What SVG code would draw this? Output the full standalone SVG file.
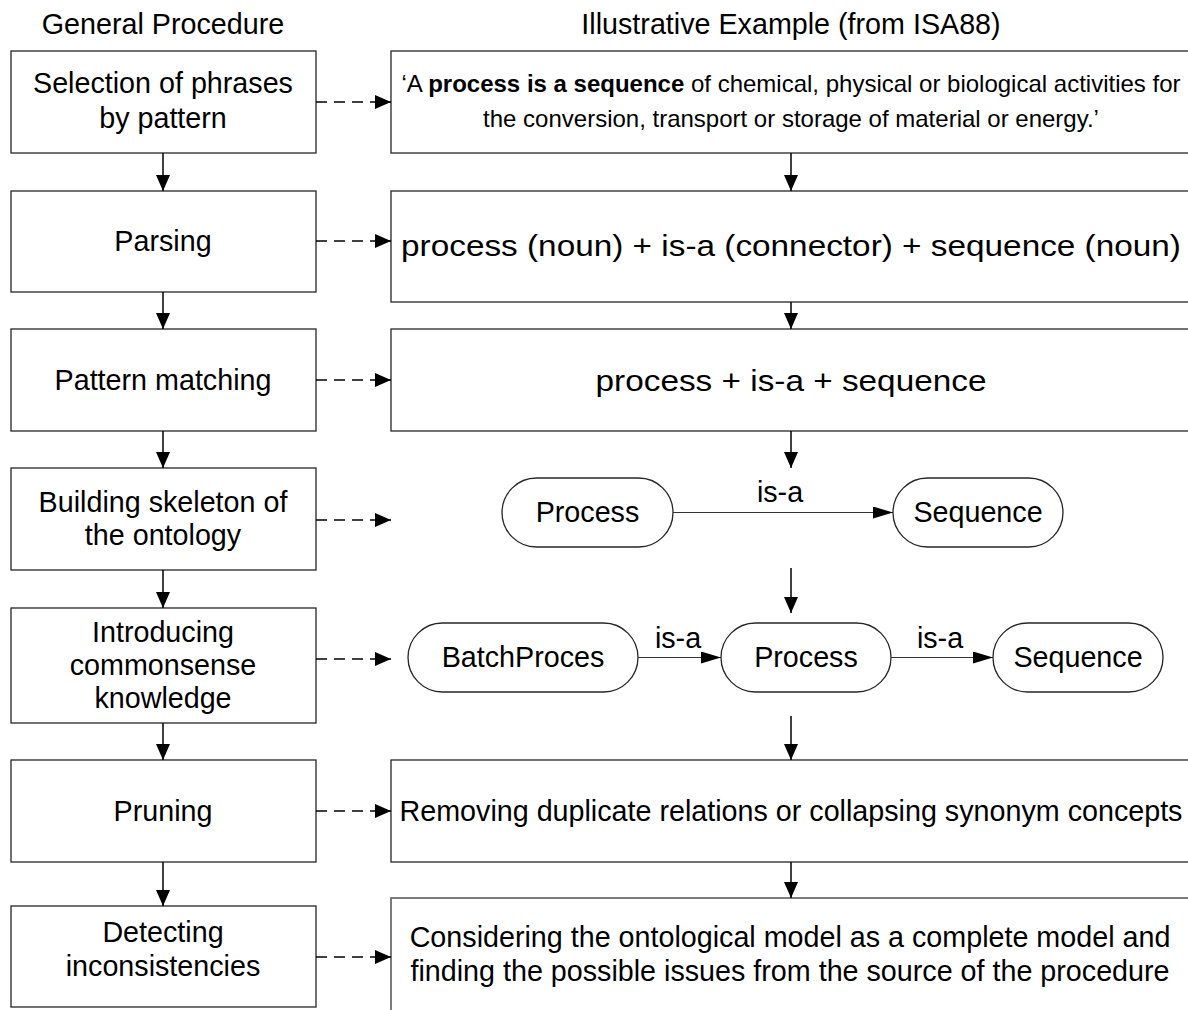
<svg xmlns="http://www.w3.org/2000/svg" width="1188" height="1010" viewBox="0 0 1188 1010">
  <style>
    .box { fill: #ffffff; stroke: #262626; stroke-width: 1.3; }
    .pill { fill: #ffffff; stroke: #262626; stroke-width: 1.3; }
    .t { font-family: "Liberation Sans", Arial, sans-serif; font-size: 28.7px; fill: #000; text-anchor: middle; }
    .s { font-size: 24px; }
    .l { font-size: 29.5px; }
    .b { font-weight: bold; }
    .flow { stroke: #000; stroke-width: 1.5; fill: none; }
    .dash { stroke: #000; stroke-width: 1.5; fill: none; stroke-dasharray: 11 7; }
    .rel { stroke: #333; stroke-width: 1.2; fill: none; }
  </style>
  <defs>
    <marker id="head" viewBox="0 0 16 14" refX="16" refY="7" markerWidth="16" markerHeight="14" markerUnits="userSpaceOnUse" orient="auto">
      <path d="M0,0 L16,7 L0,14 z" fill="#000"/>
    </marker>
    <marker id="headRel" viewBox="0 0 20 12" refX="20" refY="6" markerWidth="20" markerHeight="12" markerUnits="userSpaceOnUse" orient="auto">
      <path d="M0,0 L20,6 L0,12 z" fill="#000"/>
    </marker>
  </defs>

  <rect width="1188" height="1010" fill="#ffffff"/>

  <!-- column headings -->
  <text class="t" x="163" y="34">General Procedure</text>
  <text class="t" x="791" y="34">Illustrative Example (from ISA88)</text>

  <!-- general procedure steps -->
  <g id="step-selection">
    <rect class="box" x="11" y="51" width="305" height="102"/>
    <text class="t" x="163" y="93">Selection of phrases</text>
    <text class="t" x="163" y="128">by pattern</text>
  </g>
  <g id="step-parsing">
    <rect class="box" x="11" y="191" width="305" height="101"/>
    <text class="t" x="163" y="251">Parsing</text>
  </g>
  <g id="step-matching">
    <rect class="box" x="11" y="329" width="305" height="102"/>
    <text class="t" x="163" y="390">Pattern matching</text>
  </g>
  <g id="step-skeleton">
    <rect class="box" x="11" y="468" width="305" height="102"/>
    <text class="t" x="163" y="512">Building skeleton of</text>
    <text class="t" x="163" y="545">the ontology</text>
  </g>
  <g id="step-commonsense">
    <rect class="box" x="11" y="608" width="305" height="115"/>
    <text class="t" x="163" y="642">Introducing</text>
    <text class="t" x="163" y="675">commonsense</text>
    <text class="t" x="163" y="708">knowledge</text>
  </g>
  <g id="step-pruning">
    <rect class="box" x="11" y="760" width="305" height="102"/>
    <text class="t" x="163" y="821">Pruning</text>
  </g>
  <g id="step-detecting">
    <rect class="box" x="11" y="906" width="305" height="101"/>
    <text class="t" x="163" y="942">Detecting</text>
    <text class="t" x="163" y="976">inconsistencies</text>
  </g>

  <!-- illustrative example -->
  <g id="ex-definition">
    <rect class="box" x="391" y="51" width="820" height="102"/>
    <text class="t s" x="791" y="92">‘A <tspan class="b">process is a sequence</tspan> of chemical, physical or biological activities for</text>
    <text class="t s" x="791" y="127">the conversion, transport or storage of material or energy.’</text>
  </g>
  <g id="ex-parsed">
    <rect class="box" x="391" y="191" width="820" height="111"/>
    <text class="t l" transform="translate(791 256) scale(1.13 1)">process (noun) + is-a (connector) + sequence (noun)</text>
  </g>
  <g id="ex-matched">
    <rect class="box" x="391" y="329" width="820" height="102"/>
    <text class="t l" transform="translate(791 391) scale(1.13 1)">process + is-a + sequence</text>
  </g>
  <g id="ex-process-1">
    <rect class="pill" x="502" y="478" width="171" height="69" rx="34.5"/>
    <text class="t" x="587.5" y="522">Process</text>
  </g>
  <g id="ex-sequence-1">
    <rect class="pill" x="893" y="478" width="170" height="69" rx="34.5"/>
    <text class="t" x="978" y="522">Sequence</text>
  </g>
  <g id="ex-batchproces">
    <rect class="pill" x="408" y="623" width="230" height="69" rx="34.5"/>
    <text class="t" x="523" y="667">BatchProces</text>
  </g>
  <g id="ex-process-2">
    <rect class="pill" x="721" y="623" width="170" height="69" rx="34.5"/>
    <text class="t" x="806" y="667">Process</text>
  </g>
  <g id="ex-sequence-2">
    <rect class="pill" x="993" y="623" width="170" height="69" rx="34.5"/>
    <text class="t" x="1078" y="667">Sequence</text>
  </g>
  <g id="ex-pruned">
    <rect class="box" x="391" y="760" width="820" height="102"/>
    <text class="t" x="791" y="821">Removing duplicate relations or collapsing synonym concepts</text>
  </g>
  <g id="ex-consistency">
    <rect x="391" y="898" width="820" height="130" fill="#ffffff" stroke="#6e6e6e" stroke-width="1.8"/>
    <text class="t" x="790" y="947">Considering the ontological model as a complete model and</text>
    <text class="t" x="790" y="981">finding the possible issues from the source of the procedure</text>
  </g>

  <!-- connectors -->
  <g id="connectors">
    <line class="flow" x1="163" y1="153" x2="163" y2="191" marker-end="url(#head)"/>
    <line class="flow" x1="163" y1="292" x2="163" y2="329" marker-end="url(#head)"/>
    <line class="flow" x1="163" y1="431" x2="163" y2="468" marker-end="url(#head)"/>
    <line class="flow" x1="163" y1="570" x2="163" y2="608" marker-end="url(#head)"/>
    <line class="flow" x1="163" y1="723" x2="163" y2="760" marker-end="url(#head)"/>
    <line class="flow" x1="163" y1="862" x2="163" y2="906" marker-end="url(#head)"/>

    <line class="dash" x1="316" y1="102" x2="391" y2="102" marker-end="url(#head)"/>
    <line class="dash" x1="316" y1="241" x2="391" y2="241" marker-end="url(#head)"/>
    <line class="dash" x1="316" y1="380" x2="391" y2="380" marker-end="url(#head)"/>
    <line class="dash" x1="316" y1="520" x2="391" y2="520" marker-end="url(#head)"/>
    <line class="dash" x1="316" y1="659" x2="391" y2="659" marker-end="url(#head)"/>
    <line class="dash" x1="316" y1="811" x2="391" y2="811" marker-end="url(#head)"/>
    <line class="dash" x1="316" y1="957" x2="391" y2="957" marker-end="url(#head)"/>

    <line class="flow" x1="791" y1="153" x2="791" y2="191" marker-end="url(#head)"/>
    <line class="flow" x1="791" y1="302" x2="791" y2="329" marker-end="url(#head)"/>
    <line class="flow" x1="791" y1="431" x2="791" y2="468" marker-end="url(#head)"/>
    <line class="flow" x1="791" y1="568" x2="791" y2="613" marker-end="url(#head)"/>
    <line class="flow" x1="791" y1="716" x2="791" y2="760" marker-end="url(#head)"/>
    <line class="flow" x1="791" y1="862" x2="791" y2="898" marker-end="url(#head)"/>

    <line class="rel" x1="673" y1="512.5" x2="893" y2="512.5" marker-end="url(#headRel)"/>
    <text class="t" x="780" y="502">is-a</text>
    <line class="rel" x1="638" y1="657.5" x2="721" y2="657.5" marker-end="url(#headRel)"/>
    <text class="t" x="678" y="648">is-a</text>
    <line class="rel" x1="891" y1="657.5" x2="993" y2="657.5" marker-end="url(#headRel)"/>
    <text class="t" x="940" y="648">is-a</text>
  </g>
</svg>
